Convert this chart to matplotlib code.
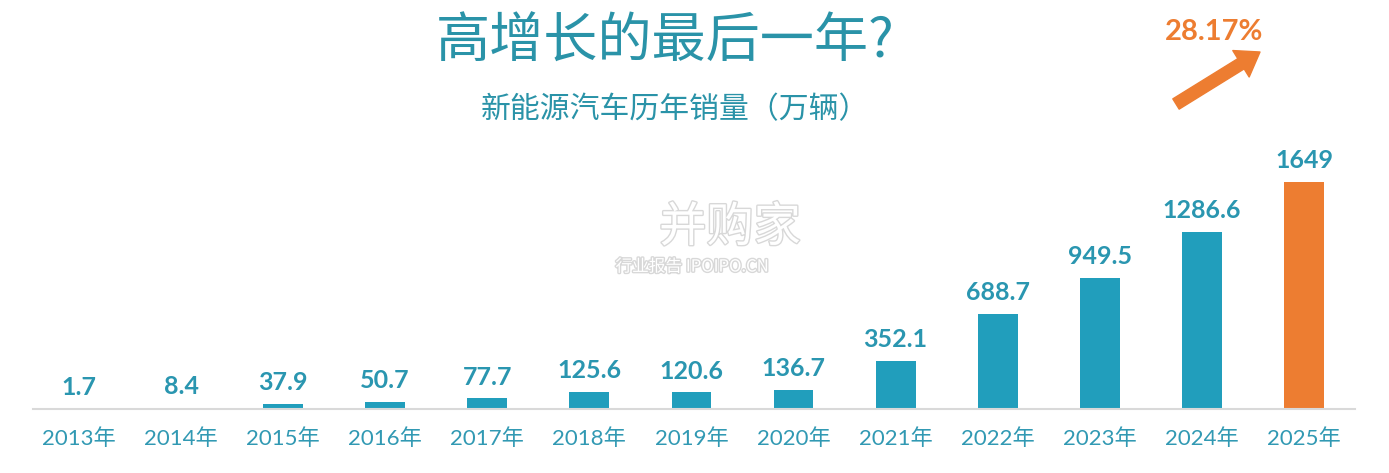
import matplotlib
matplotlib.use('Agg')
import matplotlib.pyplot as plt
import matplotlib.patheffects as pe
from matplotlib.patches import FancyArrowPatch

plt.rcParams['font.family'] = ['Lato', 'Noto Sans CJK SC', 'DejaVu Sans']

# 数据
years = ['2013年', '2014年', '2015年', '2016年', '2017年', '2018年', '2019年',
         '2020年', '2021年', '2022年', '2023年', '2024年', '2025年']
sales = [1.7, 8.4, 37.9, 50.7, 77.7, 125.6, 120.6, 136.7, 352.1, 688.7, 949.5, 1286.6, 1649]
labels = ['1.7', '8.4', '37.9', '50.7', '77.7', '125.6', '120.6', '136.7',
          '352.1', '688.7', '949.5', '1286.6', '1649']
growth = '28.17%'

teal = '#219EBC'
orange = '#ED7D31'
txt = '#2A96B0'

fig = plt.figure(figsize=(13.89, 4.73), dpi=100)
ax = fig.add_axes([33/1389, 64/473, (1355-33)/1389, 269/473])

colors = [teal]*(len(sales)-1) + [orange]
x = list(range(len(sales)))
ax.bar(x, sales, width=0.39, color=colors, zorder=2)

for xi, v, l in zip(x, sales, labels):
    ax.annotate(l, (xi, v), xytext=(0, 7), textcoords='offset points',
                ha='center', va='bottom', fontsize=18, fontweight='bold', color=txt)

ax.set_xlim(-0.45, 12.5)
ax.set_ylim(0, 1953)
ax.set_xticks(x)
ax.set_xticklabels(years, fontsize=16, color='#3199B3')
ax.tick_params(axis='x', length=0, pad=14)
ax.set_yticks([])
for s in ['top', 'right', 'left']:
    ax.spines[s].set_visible(False)
ax.spines['bottom'].set_color('#D9D9D9')
ax.spines['bottom'].set_linewidth(1.5)

# 标题
fig.text(665/1389, 1-42/473, '高增长的最后一年?', ha='center', va='center',
         fontsize=39, color='#2A93A8', family=['Noto Sans CJK SC', 'DejaVu Sans'])
fig.text(675/1389, 1-110/473, '新能源汽车历年销量（万辆）', ha='center', va='center',
         fontsize=21.5, color='#2A93A8', family=['Noto Sans CJK SC', 'DejaVu Sans'])

# 增长率箭头
fig.text(1214/1389, 1-32/473, growth, ha='center', va='center',
         fontsize=21, fontweight='bold', color=orange)
arrow = FancyArrowPatch((1176, 473-104), (1260, 473-52), transform=None,
                        arrowstyle='simple,head_length=1.15,head_width=1.6,tail_width=0.62',
                        mutation_scale=14, color=orange, shrinkA=0, shrinkB=0)
fig.patches.append(arrow)

# 水印
wm = [pe.withStroke(linewidth=2, foreground='#D8D8D8')]
fig.text(730/1389, 1-228/473, '并购家', ha='center', va='center', fontsize=34,
         color='white', family=['Noto Sans CJK SC'], path_effects=wm, zorder=5)
fig.text(692/1389, 1-267/473, '行业报告 IPOIPO.CN', ha='center', va='center', fontsize=12,
         color='white', family=['Noto Sans CJK SC'], path_effects=wm, zorder=5)

fig.savefig('out.png', dpi=100, facecolor='white')
